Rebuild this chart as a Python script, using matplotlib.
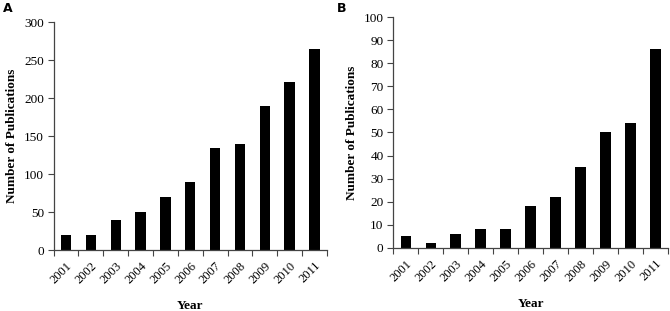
import numpy as np
import matplotlib.pyplot as plt

plt.rcParams['font.family'] = ['Liberation Serif', 'DejaVu Serif']

years = ['2001', '2002', '2003', '2004', '2005', '2006', '2007', '2008', '2009', '2010', '2011']
pubs_a = [20, 20, 40, 50, 70, 90, 134, 140, 190, 221, 264]
pubs_b = [5, 2, 6, 8, 8, 18, 22, 35, 50, 54, 86]

fig = plt.figure(figsize=(6.7, 3.11), dpi=100)
ax_a = fig.add_axes([0.080, 0.196, 0.408, 0.733])
ax_b = fig.add_axes([0.587, 0.203, 0.410, 0.742])


def draw_panel(ax, values, ymax, ystep):
    x = np.arange(len(years))
    ax.bar(x, values, width=0.42, color='black')
    ax.set_xlim(-0.5, len(years) - 0.5)
    ax.set_ylim(0, ymax)
    ax.set_yticks(np.arange(0, ymax + 1, ystep))
    ax.set_xticks(x)
    ax.set_xticklabels(years, rotation=45, ha='right', rotation_mode='anchor', fontsize=9)
    ax.set_xticks(np.arange(-0.5, len(years)), minor=True)
    ax.tick_params(axis='x', which='major', length=0, pad=7)
    ax.tick_params(axis='x', which='minor', length=4, width=0.8, color='#444444', direction='out')
    ax.tick_params(axis='y', length=4, width=0.8, color='#444444', labelsize=9.5, pad=3)
    for s in ['top', 'right']:
        ax.spines[s].set_visible(False)
    for s in ['left', 'bottom']:
        ax.spines[s].set_color('#444444')
        ax.spines[s].set_linewidth(0.9)
    ax.set_ylabel('Number of Publications', fontsize=9.5, fontweight='bold', labelpad=4)
    ax.set_xlabel('Year', fontsize=9.5, fontweight='bold', labelpad=10)


draw_panel(ax_a, pubs_a, 300, 50)
draw_panel(ax_b, pubs_b, 100, 10)

fig.text(0.004, 0.962, 'A', fontsize=9, fontweight='bold', family='DejaVu Sans')
fig.text(0.503, 0.962, 'B', fontsize=9, fontweight='bold', family='DejaVu Sans')

fig.savefig('out.png', dpi=100)
